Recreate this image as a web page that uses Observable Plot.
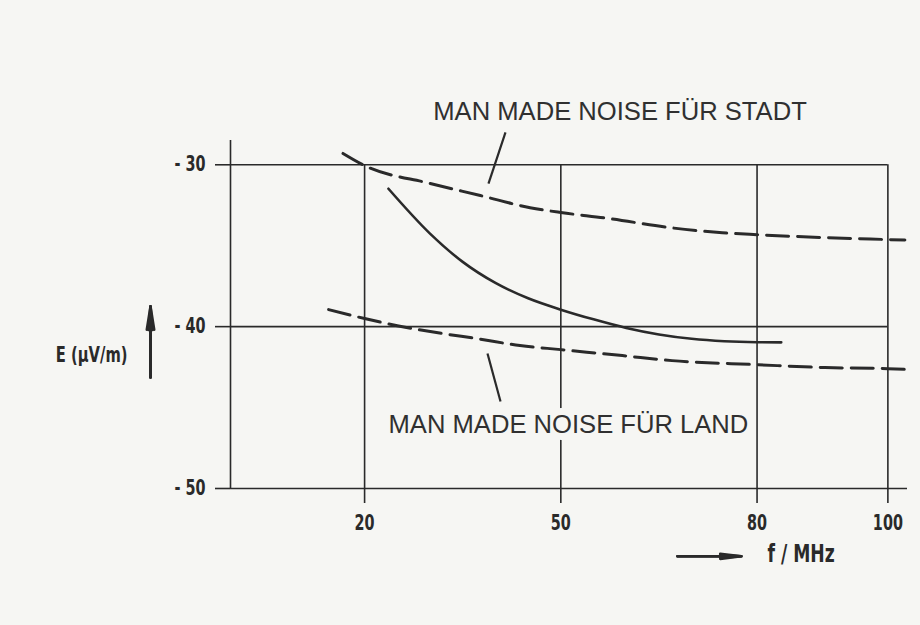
<!DOCTYPE html>
<html><head><meta charset="utf-8">
<script src="https://cdn.jsdelivr.net/npm/d3@7"></script>
<script src="https://cdn.jsdelivr.net/npm/@observablehq/plot@0.6"></script>
<style>
html,body{margin:0;padding:0;background:#f6f6f3;}
#chart{width:920px;height:625px;}
</style></head><body><div id="chart"></div>
<script>
// ---- data ----
const xTicks = [20, 50, 80, 100];
const xTickLabels = ["20", "50", "80", "100"];
const yTicks = [-30, -40, -50];
const yTickLabels = ["- 30", "- 40", "- 50"];

// Man made noise für Stadt (dashed, upper)
const stadtF = [16.7, 20, 30, 37.7, 45.3, 50, 57, 67, 74.7, 80, 90.4, 100, 102.6];
const stadtE = [-29.3, -30.05, -31.15, -31.9, -32.65, -32.95, -33.3, -33.9, -34.2, -34.32, -34.5, -34.62, -34.65];

// measured curve (solid)
const messF = [23.65, 30, 35, 40, 45, 50, 55, 60, 65, 70, 75, 80, 83.7];
const messE = [-31.48, -34.25, -36.0, -37.3, -38.25, -38.95, -39.55, -40.08, -40.48, -40.75, -40.9, -40.96, -40.97];

// Man made noise für Land (dashed, lower)
const landF = [14.5, 20, 25, 32, 37.2, 43.75, 50, 59.4, 67, 80, 90.4, 100, 103.1];
const landE = [-38.95, -39.5, -39.94, -40.43, -40.74, -41.17, -41.42, -41.79, -42.1, -42.35, -42.53, -42.6, -42.65];

const labelStadt = "MAN MADE NOISE FÜR STADT";
const labelLand = "MAN MADE NOISE FÜR LAND";
const yAxisTitle = "E (µV/m)";
const xAxisTitle = "f / MHz";

// ---- build ----
const toRows = (F, E) => F.map((f, i) => ({f, e: E[i]}));
const stadt = toRows(stadtF, stadtE);
const mess = toRows(messF, messE);
const land = toRows(landF, landE);

const xDomain = [-0.5, 103];
const yDomain = [-50, -28.5];
const ink = "#2a2a2a";
const bg = "#f6f6f3";
const narrow = "'DejaVu Sans Condensed', 'DejaVu Sans', sans-serif";
const sans = "'Liberation Sans', Arial, Helvetica, sans-serif";

const labels = [
  {t: labelStadt, x: 30.5, y: -27.26},
  {t: labelLand, x: 23.66, y: -46.6}
];
const leaders = [
  {x1: 41.54, y1: -28.0, x2: 38.94, y2: -31.16},
  {x1: 38.79, y1: -41.66, x2: 40.78, y2: -44.62}
];
const yArrow = [{x1: -12.73, y1: -43.14, x2: -12.73, y2: -38.75}];
const xArrow = [{x1: 67.84, y1: -54.19, x2: 77.6, y2: -54.19}];

const arrowMarks = (data, len, angles) => angles.map(a => Plot.arrow(data, {
  x1: "x1", y1: "y1", x2: "x2", y2: "y2", stroke: ink, strokeWidth: 2.6,
  headLength: len, headAngle: a
}));

const chart = Plot.plot({
  width: 920, height: 625,
  marginLeft: 230, marginRight: 13, marginTop: 140, marginBottom: 137,
  x: {domain: xDomain},
  y: {domain: yDomain},
  style: {background: "transparent", color: ink},
  marks: [
    Plot.ruleX([xDomain[0]], {stroke: ink, strokeWidth: 1.6}),
    Plot.ruleY([yTicks[0], yTicks[1]], {x1: xDomain[0], x2: 100, stroke: ink, strokeWidth: 1.6}),
    Plot.ruleY([yTicks[2]], {stroke: ink, strokeWidth: 1.6}),
    Plot.ruleX(xTicks, {y1: -50, y2: -30, stroke: ink, strokeWidth: 1.6}),
    Plot.axisX({ticks: xTicks, tickFormat: d => xTickLabels[xTicks.indexOf(d)], tickSize: 15, tickPadding: 12,
      label: null, stroke: ink, strokeWidth: 1.6, fill: ink, fontSize: 20.5, fontWeight: "bold", fontFamily: narrow}),
    Plot.axisY({ticks: yTicks, tickFormat: d => yTickLabels[yTicks.indexOf(d)], tickSize: 15, tickPadding: 10,
      label: null, stroke: ink, strokeWidth: 1.6, fill: ink, fontSize: 20.5, fontWeight: "bold", fontFamily: narrow}),
    Plot.text(labels, {x: "x", y: "y", text: "t", textAnchor: "start", lineAnchor: "bottom",
      fontFamily: sans, fontSize: 25.6, fill: "#303030", stroke: bg, strokeWidth: 14, paintOrder: "stroke"}),
    Plot.link(leaders, {x1: "x1", y1: "y1", x2: "x2", y2: "y2", stroke: ink, strokeWidth: 2.2}),
    Plot.line(stadt, {x: "f", y: "e", curve: "monotone-x", stroke: ink, strokeWidth: 3, strokeDasharray: "22,9"}),
    Plot.line(land, {x: "f", y: "e", curve: "monotone-x", stroke: ink, strokeWidth: 3, strokeDasharray: "22,9"}),
    Plot.line(mess, {x: "f", y: "e", curve: "monotone-x", stroke: ink, strokeWidth: 2.6}),
    ...arrowMarks(yArrow, 29, [18, 10, 3]),
    ...arrowMarks(xArrow, 34, [14, 7, 2]),
    Plot.text([{t: yAxisTitle, x: -16.25, y: -41.78}], {x: "x", y: "y", text: "t", textAnchor: "end", lineAnchor: "middle",
      fontFamily: narrow, fontSize: 21, fontWeight: "bold", fill: ink}),
    Plot.text([{t: xAxisTitle, x: 81.6, y: -54.57}], {x: "x", y: "y", text: "t", textAnchor: "start", lineAnchor: "bottom",
      fontFamily: narrow, fontSize: 24.5, fontWeight: "bold", fill: ink})
  ]
});

// narrow the technical lettering (condensed look of the original drawing)
const sx = 0.78;
for (const t of chart.querySelectorAll('g[font-family*="Condensed"] text')) {
  const tr = t.getAttribute("transform") || "";
  t.setAttribute("transform", `${tr} scale(${sx},1)`);
  const x = t.getAttribute("x");
  if (x !== null && !isNaN(+x)) t.setAttribute("x", +x / sx);
}
document.getElementById("chart").append(chart);
</script>
</body></html>
